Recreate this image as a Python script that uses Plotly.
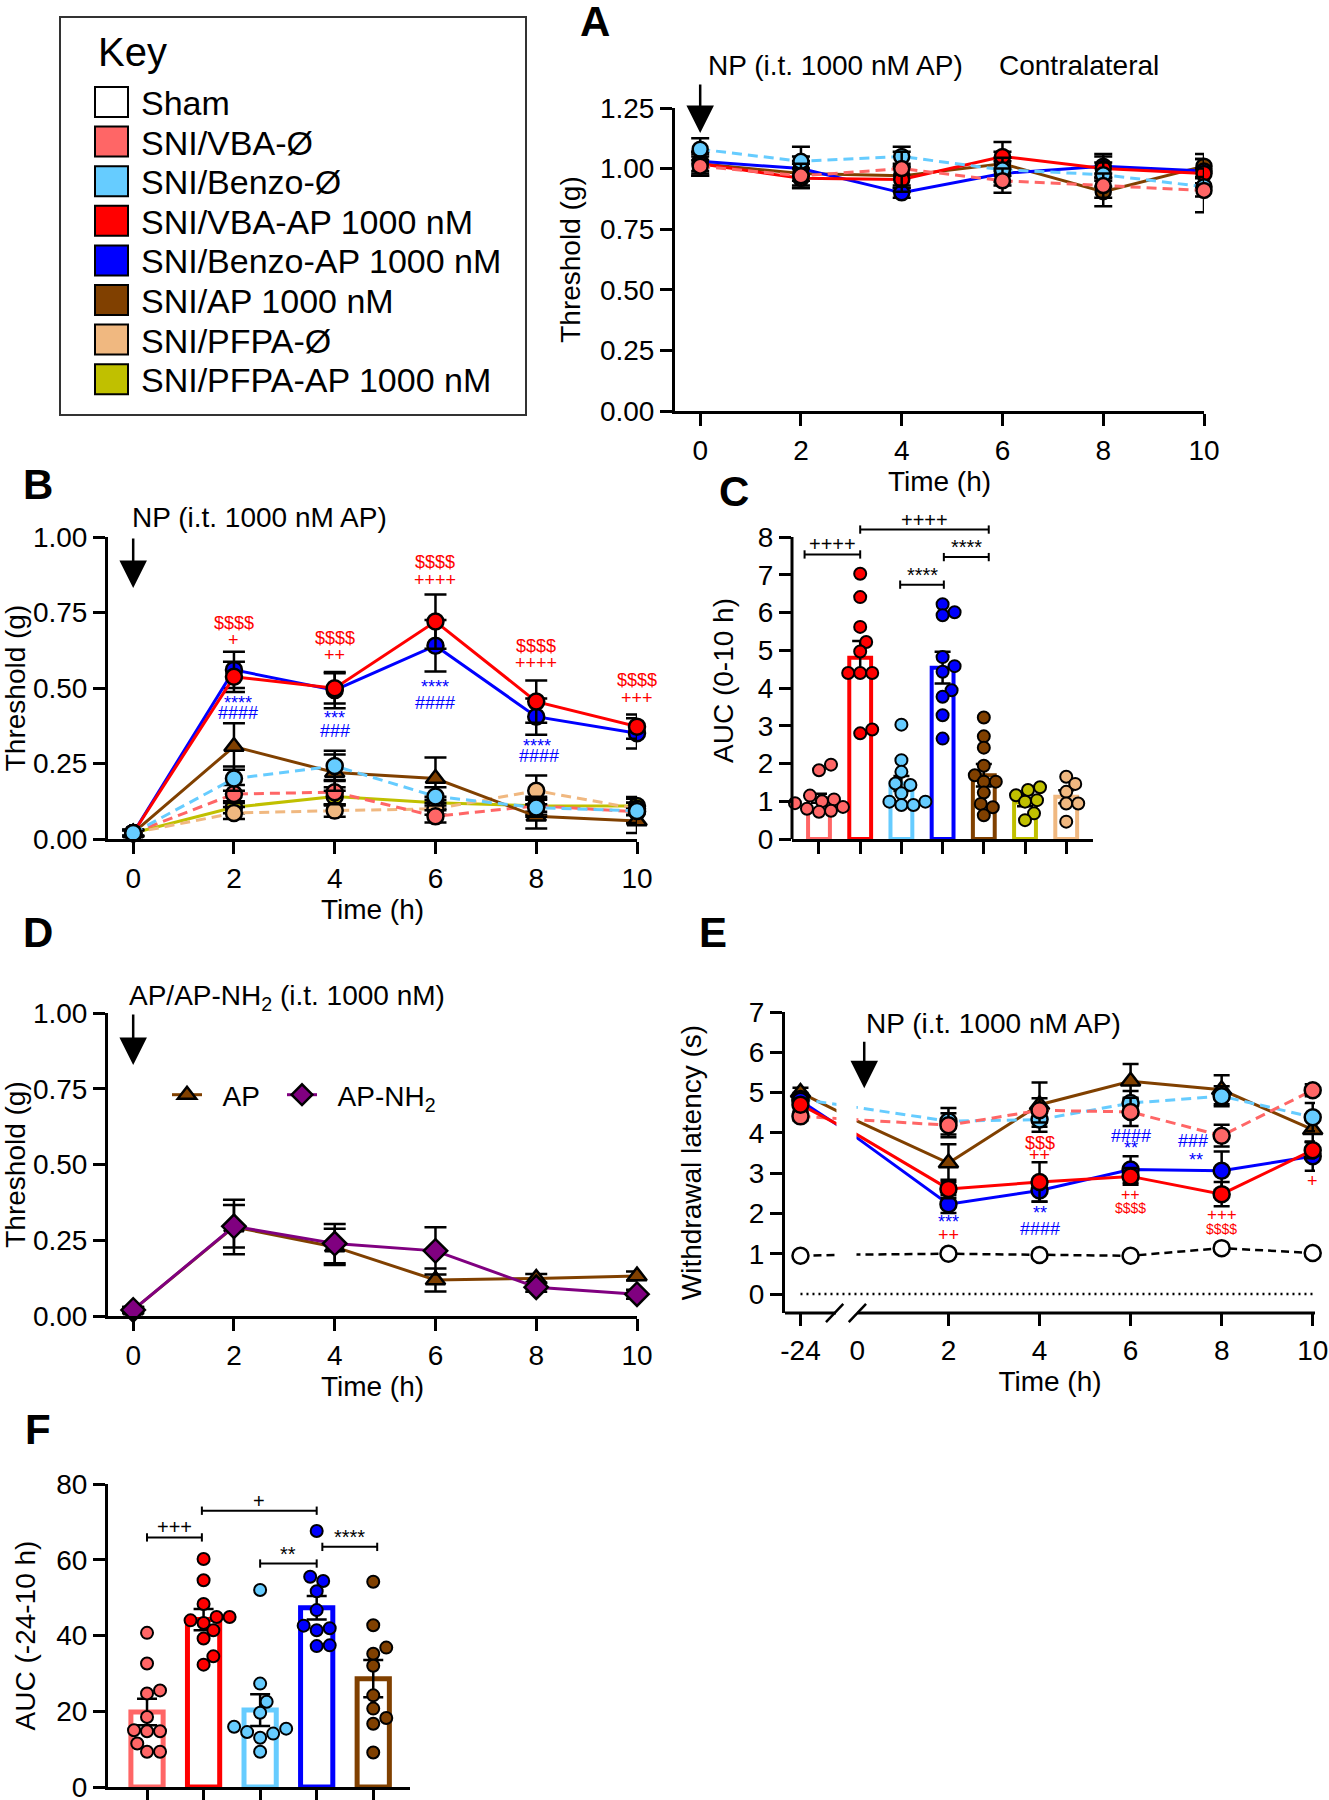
import plotly.graph_objects as go

W, H = 1329, 1800
FONT = 'Liberation Sans, Arial, Helvetica, sans-serif'

PINK, LBLUE, RED, BLUE = '#FF6666', '#66CCFF', '#FF0000', '#0000FF'
BROWN, PEACH, OLIVE, PURPLE = '#804000', '#F0B880', '#C0C000', '#800080'
DASH = '10px,6px'

# key
key_labels = ['Sham', 'SNI/VBA-Ø', 'SNI/Benzo-Ø', 'SNI/VBA-AP 1000 nM', 'SNI/Benzo-AP 1000 nM',
              'SNI/AP 1000 nM', 'SNI/PFPA-Ø', 'SNI/PFPA-AP 1000 nM']
key_colors = ['white', PINK, LBLUE, RED, BLUE, BROWN, PEACH, OLIVE]

# panel A - contralateral threshold (g)
a_time = [0, 2, 4, 6, 8, 10]
a_ap = [1.02, 0.98, 0.97, 1.02, 0.905, 1.01]
a_ap_err = [0.05, 0.05, 0.05, 0.05, 0.06, 0.05]
a_benzo_ap = [1.03, 1.00, 0.90, 0.98, 1.01, 0.99]
a_benzo_ap_err = [0.04, 0.05, 0.02, 0.05, 0.05, 0.05]
a_vba_ap = [1.02, 0.96, 0.955, 1.05, 1.00, 0.98]
a_vba_ap_err = [0.04, 0.04, 0.05, 0.06, 0.05, 0.06]
a_benzo0 = [1.08, 1.03, 1.05, 0.995, 0.975, 0.925]
a_benzo0_err = [0.045, 0.06, 0.04, 0.05, 0.05, 0.04]
a_vba0 = [1.01, 0.97, 1.00, 0.95, 0.93, 0.91]
a_vba0_err = [0.04, 0.05, 0.07, 0.05, 0.05, 0.09]

# panel B - ipsilateral threshold (g)
b_time = [0, 2, 4, 6, 8, 10]
b_pfpa_ap = [0.02, 0.105, 0.141, 0.12, 0.11, 0.109]
b_pfpa_ap_err = [0.01, 0.02, 0.03, 0.02, 0.02, 0.03]
b_pfpa0 = [0.02, 0.086, 0.094, 0.10, 0.16, 0.10]
b_pfpa0_err = [0.01, 0.02, 0.02, 0.02, 0.05, 0.02]
b_vba0 = [0.02, 0.149, 0.155, 0.075, 0.11, 0.09]
b_vba0_err = [0.01, 0.03, 0.04, 0.02, 0.03, 0.03]
b_ap = [0.02, 0.306, 0.22, 0.20, 0.075, 0.06]
b_ap_err = [0.01, 0.077, 0.06, 0.07, 0.04, 0.04]
b_benzo_ap = [0.02, 0.56, 0.493, 0.64, 0.405, 0.35]
b_benzo_ap_err = [0.01, 0.06, 0.06, 0.085, 0.06, 0.05]
b_vba_ap = [0.02, 0.537, 0.499, 0.72, 0.455, 0.372]
b_vba_ap_err = [0.01, 0.05, 0.05, 0.09, 0.07, 0.04]
b_benzo0 = [0.02, 0.20, 0.242, 0.141, 0.104, 0.093]
b_benzo0_err = [0.01, 0.04, 0.05, 0.03, 0.03, 0.04]
b_sig = [(2, 0.714, '$$$$', RED), (2, 0.659, '+', RED), (2.08, 0.449, '****', BLUE), (2.08, 0.416, '####', BLUE),
         (4, 0.664, '$$$$', RED), (4, 0.609, '++', RED), (4, 0.40, '***', BLUE), (4, 0.356, '###', BLUE),
         (6, 0.917, '$$$$', RED), (6, 0.859, '++++', RED), (6, 0.504, '****', BLUE), (6, 0.452, '####', BLUE),
         (8, 0.64, '$$$$', RED), (8, 0.584, '++++', RED), (8.02, 0.309, '****', BLUE), (8.05, 0.275, '####', BLUE),
         (10, 0.526, '$$$$', RED), (10, 0.466, '+++', RED), (10.05, 0.27, '***', BLUE), (10.05, 0.237, '###', BLUE)]

# panel C - AUC (0-10 h)
c_colors = [PINK, RED, LBLUE, BLUE, BROWN, OLIVE, PEACH]
c_mean = [1.08, 4.80, 1.47, 4.54, 1.69, 0.97, 1.12]
c_sem = [0.12, 0.45, 0.20, 0.42, 0.30, 0.10, 0.17]
c_dots = [
    [1.97, 1.82, 1.15, 1.05, 1.00, 0.95, 0.85, 0.80, 0.75, 0.72],
    [7.03, 6.41, 5.62, 5.22, 4.97, 4.40, 4.40, 4.40, 2.90, 2.80],
    [3.03, 2.09, 1.78, 1.47, 1.43, 1.21, 0.99, 0.99, 0.90, 0.90],
    [6.22, 6.01, 5.93, 4.82, 4.58, 4.43, 3.94, 3.77, 3.28, 2.66],
    [3.22, 2.72, 2.42, 1.94, 1.69, 1.52, 1.52, 1.23, 0.93, 0.84, 0.63],
    [1.37, 1.30, 1.16, 1.03, 0.99, 0.68, 0.50],
    [1.65, 1.46, 1.25, 0.94, 0.94, 0.46],
]
c_brackets = [(-0.35, 1.0, 7.54, '++++'), (1.0, 4.12, 8.2, '++++'),
              (1.97, 3.03, 6.74, '****'), (3.03, 4.12, 7.47, '****')]

# panel D - AP vs AP-NH2
d_time = [0, 2, 4, 6, 8, 10]
d_ap = [0.02, 0.294, 0.228, 0.119, 0.124, 0.132]
d_ap_err = [0.01, 0.09, 0.06, 0.038, 0.015, 0.015]
d_apnh2 = [0.02, 0.296, 0.239, 0.215, 0.095, 0.072]
d_apnh2_err = [0.01, 0.07, 0.065, 0.078, 0.015, 0.015]

# panel E - withdrawal latency (s)
e_time = [-24, 0, 2, 4, 6, 8, 10]
e_sham = [0.95, 0.98, 1.00, 0.97, 0.95, 1.14, 1.02]
e_sham_err = [0.05, 0, 0.05, 0.05, 0.05, 0.06, 0.05]
e_ap = [5.0, 4.29, 3.25, 4.70, 5.28, 5.07, 4.08]
e_ap_err = [0.12, 0, 0.47, 0.55, 0.43, 0.36, 0.30]
e_benzo0 = [4.84, 4.63, 4.29, 4.33, 4.74, 4.91, 4.39]
e_benzo0_err = [0.15, 0, 0.33, 0.30, 0.30, 0.25, 0.35]
e_vba0 = [4.41, 4.33, 4.19, 4.56, 4.52, 3.93, 5.06]
e_vba0_err = [0.10, 0, 0.30, 0.30, 0.35, 0.27, 0.15]
e_benzo_ap = [4.80, 3.87, 2.23, 2.57, 3.09, 3.06, 3.42]
e_benzo_ap_err = [0.15, 0, 0.22, 0.27, 0.33, 0.48, 0.36]
e_vba_ap = [4.70, 3.95, 2.61, 2.78, 2.92, 2.48, 3.57]
e_vba_ap_err = [0.15, 0, 0.23, 0.49, 0.21, 0.30, 0.20]
e_sig = [(2, 1.80, '***', BLUE, 18), (2, 1.47, '++', RED, 18),
         (4, 3.75, '$$$', RED, 18), (4, 3.44, '++', RED, 18), (4, 2.01, '**', BLUE, 18), (4, 1.61, '####', BLUE, 18),
         (6, 3.93, '####', BLUE, 18), (6, 3.62, '**', BLUE, 18), (6, 2.47, '++', RED, 16), (6, 2.13, '$$$$', RED, 14),
         (7.38, 3.79, '###', BLUE, 18), (7.43, 3.32, '**', BLUE, 18),
         (8, 1.97, '+++', RED, 17), (8, 1.61, '$$$$', RED, 14), (10, 2.81, '+', RED, 18)]
E_PRE = -1.25  # where the -24 h baseline sits left of the axis break


def e_pos(t):
    return E_PRE if t < 0 else t


# panel F - AUC (-24-10 h)
f_colors = [PINK, RED, LBLUE, BLUE, BROWN]
f_mean = [19.8, 44.2, 20.3, 47.3, 28.6]
f_sem = [3.5, 2.8, 4.2, 3.1, 4.9]
f_dots = [
    [40.7, 32.6, 25.5, 24.7, 18.5, 15.0, 14.7, 14.7, 11.5, 9.3, 9.3],
    [60.2, 54.6, 48.3, 44.9, 44.9, 44.0, 43.3, 41.4, 39.2, 34.5, 32.3],
    [52.0, 27.3, 22.5, 19.6, 15.9, 15.4, 14.5, 14.1, 13.0, 9.3],
    [67.6, 55.5, 54.4, 51.7, 46.7, 42.6, 41.9, 41.4, 37.4, 37.2],
    [54.2, 42.7, 36.8, 35.2, 32.0, 24.2, 20.7, 18.2, 16.7, 9.1],
]
f_brackets = [(0, 0.97, 65.9, '+++'), (0.97, 3.0, 72.95, '+'),
              (2.0, 3.0, 59.0, '**'), (3.1, 4.07, 63.4, '****')]


def px(x):
    return x / W


def py(y):
    return 1 - y / H


def swarm(vals, ppu, ppc, d):
    # simple beeswarm: push dots sideways until they stop overlapping
    order = sorted(range(len(vals)), key=lambda i: vals[i])
    placed, offs = [], [0.0] * len(vals)
    for i in order:
        y = vals[i] * ppu
        x = 0.0
        for k in range(0, 60):
            cands = [0] if k == 0 else [k, -k]
            ok = None
            for s in cands:
                cx = s * d * 0.25
                if all((cx - a) ** 2 + (y - b) ** 2 >= (0.9 * d) ** 2 for a, b in placed):
                    ok = cx
                    break
            if ok is not None:
                x = ok
                break
        placed.append((x, y))
        offs[i] = x / ppc
    return offs


def curve(x, y, err, color, xa, ya, dash='solid', symbol='circle', size=16, cap=11,
          fill=None, mode='lines+markers', name=None, legend=None, lw=3):
    return go.Scatter(
        x=x, y=y, mode=mode, xaxis=xa, yaxis=ya, name=name, showlegend=legend is not None,
        legend=legend or 'legend', cliponaxis=False,
        line=dict(color=color, width=lw, dash=dash),
        marker=dict(symbol=symbol, size=size, color=fill or color, line=dict(color='black', width=2.5)),
        error_y=dict(type='data', array=err, color='black', thickness=2.5, width=cap) if err is not None else None,
        hoverinfo='x+y')


fig = go.Figure()

# A
for y, e, c, dsh in [(a_ap, a_ap_err, BROWN, 'solid'), (a_benzo_ap, a_benzo_ap_err, BLUE, 'solid'),
                     (a_vba_ap, a_vba_ap_err, RED, 'solid'), (a_benzo0, a_benzo0_err, LBLUE, DASH),
                     (a_vba0, a_vba0_err, PINK, DASH)]:
    fig.add_trace(curve(a_time, y, e, c, 'x', 'y', dash=dsh, size=15, cap=9))

# B
for y, e, c, dsh, sym in [(b_pfpa_ap, b_pfpa_ap_err, OLIVE, 'solid', 'circle'),
                          (b_pfpa0, b_pfpa0_err, PEACH, DASH, 'circle'),
                          (b_vba0, b_vba0_err, PINK, DASH, 'circle'),
                          (b_ap, b_ap_err, BROWN, 'solid', 'triangle-up'),
                          (b_benzo_ap, b_benzo_ap_err, BLUE, 'solid', 'circle'),
                          (b_vba_ap, b_vba_ap_err, RED, 'solid', 'circle'),
                          (b_benzo0, b_benzo0_err, LBLUE, DASH, 'circle')]:
    fig.add_trace(curve(b_time, y, e, c, 'x2', 'y2', dash=dsh, symbol=sym, size=17 if sym != 'circle' else 16))

# C
fig.add_trace(go.Bar(x=list(range(len(c_mean))), y=c_mean, width=0.53, xaxis='x3', yaxis='y3', showlegend=False,
                     marker=dict(color='white', line=dict(color=c_colors, width=4)),
                     error_y=dict(type='data', array=c_sem, color='black', thickness=2.5, width=8)))
for i, vals in enumerate(c_dots):
    offs = swarm(vals, 37.75, 41.2, 12)
    fig.add_trace(go.Scatter(x=[i + o for o in offs], y=vals, mode='markers', xaxis='x3', yaxis='y3',
                             showlegend=False, cliponaxis=False,
                             marker=dict(size=12, color=c_colors[i], line=dict(color='black', width=2))))

# D (two little legends carry the labels)
fig.add_trace(curve(d_time, d_ap, d_ap_err, BROWN, 'x4', 'y4', symbol='triangle-up', size=17,
                    name='&nbsp;&nbsp;AP', legend='legend'))
fig.add_trace(curve(d_time, d_apnh2, d_apnh2_err, PURPLE, 'x4', 'y4', symbol='diamond', size=18,
                    name='&nbsp;&nbsp;AP-NH<sub>2</sub>', legend='legend2'))

# E
e_x = [e_pos(t) for t in e_time]
e_keep = [i for i, t in enumerate(e_time) if t != 0]
for y, e, c, dsh, sym, fill in [(e_sham, e_sham_err, 'black', '8px,5px', 'circle', 'white'),
                                (e_ap, e_ap_err, BROWN, 'solid', 'triangle-up', None),
                                (e_benzo0, e_benzo0_err, LBLUE, DASH, 'circle', None),
                                (e_vba0, e_vba0_err, PINK, DASH, 'circle', None),
                                (e_benzo_ap, e_benzo_ap_err, BLUE, 'solid', 'circle', None),
                                (e_vba_ap, e_vba_ap_err, RED, 'solid', 'circle', None)]:
    fig.add_trace(curve(e_x, y, None, c, 'x5', 'y5', dash=dsh, mode='lines',
                        lw=2.5 if c == 'black' else 3))
    fig.add_trace(curve([e_x[i] for i in e_keep], [y[i] for i in e_keep], [e[i] for i in e_keep],
                        c, 'x5', 'y5', symbol=sym, size=17 if sym != 'circle' else 16, cap=8,
                        fill=fill, mode='markers'))
# anchor for the overlay axis that carries the "0" label
fig.add_trace(go.Scatter(x=[0], y=[0], xaxis='x6', yaxis='y5', mode='markers', showlegend=False,
                         marker=dict(opacity=0), hoverinfo='skip'))

# F
fig.add_trace(go.Bar(x=list(range(len(f_mean))), y=f_mean, width=0.57, xaxis='x7', yaxis='y7', showlegend=False,
                     marker=dict(color='white', line=dict(color=f_colors, width=5)),
                     error_y=dict(type='data', array=f_sem, color='black', thickness=2.5, width=10)))
for i, vals in enumerate(f_dots):
    offs = swarm(vals, 303 / 80, 56.5, 13)
    fig.add_trace(go.Scatter(x=[i + o for o in offs], y=vals, mode='markers', xaxis='x7', yaxis='y7',
                             showlegend=False, cliponaxis=False,
                             marker=dict(size=12, color=f_colors[i], line=dict(color='black', width=2))))


def axis(a, b, rng, letter, **kw):
    dom = [a / W, b / W] if letter == 'x' else [1 - a / H, 1 - b / H]
    d = dict(domain=dom, range=rng, showline=True, linecolor='black', linewidth=3, ticks='outside',
             ticklen=12, tickwidth=3, tickcolor='black', showgrid=False, zeroline=False, automargin=False,
             ticklabeloverflow='allow', tickfont=dict(family=FONT, size=28, color='black'))
    d.update(kw)
    return d


def ttl(text, standoff):
    return dict(text=text, font=dict(family=FONT, size=28, color='black'), standoff=standoff)


def small_legend(x):
    return dict(orientation='h', x=px(x), y=py(1095), xanchor='left', yanchor='middle',
                font=dict(family=FONT, size=28, color='black'), bgcolor='rgba(0,0,0,0)',
                itemwidth=30, itemclick=False, itemdoubleclick=False)


t6 = [0, 2, 4, 6, 8, 10]
fig.update_layout(
    template='none',
    xaxis=axis(675, 1204, [-0.5, 10], 'x', anchor='y', tickvals=t6, title=ttl('Time (h)', 6)),
    yaxis=axis(411, 108, [0, 1.25], 'y', anchor='x', tickvals=[0, 0.25, 0.5, 0.75, 1.0, 1.25],
               tickformat='.2f', title=ttl('Threshold (g)', 12)),
    xaxis2=axis(108, 637, [-0.5, 10], 'x', anchor='y2', tickvals=t6, title=ttl('Time (h)', 6)),
    yaxis2=axis(839, 537, [0, 1], 'y', anchor='x2', tickvals=[0, 0.25, 0.5, 0.75, 1.0],
                tickformat='.2f', title=ttl('Threshold (g)', 12)),
    xaxis3=axis(792, 1093, [-0.655, 6.65], 'x', anchor='y3', tickvals=list(range(7)), showticklabels=False),
    yaxis3=axis(839, 522, [0, 8.4], 'y', anchor='x3', tickvals=list(range(9)), showline=False,
                title=ttl('AUC (0-10 h)', 16)),
    xaxis4=axis(108, 637, [-0.5, 10], 'x', anchor='y4', tickvals=t6, title=ttl('Time (h)', 6)),
    yaxis4=axis(1316, 1013, [0, 1], 'y', anchor='x4', tickvals=[0, 0.25, 0.5, 0.75, 1.0],
                tickformat='.2f', title=ttl('Threshold (g)', 12)),
    xaxis5=axis(785, 1315, [-1.59, 10.05], 'x', anchor='y5', showline=False,
                tickvals=[e_pos(t) for t in e_time if t != 0], ticktext=[str(t) for t in e_time if t != 0],
                title=ttl('Time (h)', 6)),
    xaxis6=axis(785, 1315, [-1.59, 10.05], 'x', anchor='y5', overlaying='x5', showline=False,
                tickvals=[0], ticktext=['0'], tickcolor='rgba(0,0,0,0)'),
    yaxis5=axis(1313, 1012, [-0.47, 7], 'y', anchor='x5', tickvals=list(range(8)),
                title=ttl('Withdrawal latency (s)', 40)),
    xaxis7=axis(108, 410, [-0.69, 4.65], 'x', anchor='y7', tickvals=list(range(5)), showticklabels=False),
    yaxis7=axis(1787, 1484, [0, 80], 'y', anchor='x7', tickvals=[0, 20, 40, 60, 80],
                title=ttl('AUC (-24-10 h)', 13)),
    width=W, height=H, margin=dict(l=0, r=0, t=0, b=0, pad=0),
    paper_bgcolor='white', plot_bgcolor='rgba(0,0,0,0)',
    font=dict(family=FONT, color='black'),
    legend=small_legend(167),
    legend2=small_legend(282),
    hovermode='closest',
)

shapes = []
ann = []

# key box
shapes.append(dict(type='rect', xref='paper', yref='paper', x0=px(60), x1=px(526), y0=py(17), y1=py(415),
                   line=dict(color='#333333', width=2), fillcolor='rgba(0,0,0,0)'))
ann.append(dict(xref='paper', yref='paper', x=px(96), y=py(52), text='Key', showarrow=False,
                xanchor='left', yanchor='middle', font=dict(family=FONT, size=40, color='black')))
for i, (lab, col) in enumerate(zip(key_labels, key_colors)):
    cy = 102 + 39.6 * i
    shapes.append(dict(type='rect', xref='paper', yref='paper', x0=px(95), x1=px(128),
                       y0=py(cy + 15), y1=py(cy - 15), fillcolor=col, line=dict(color='black', width=2)))
    ann.append(dict(xref='paper', yref='paper', x=px(139), y=py(cy + 1), text=lab, showarrow=False,
                    xanchor='left', yanchor='middle', font=dict(family=FONT, size=34, color='black')))

# panel letters
for t, x, y in [('A', 595, 21), ('B', 38, 484), ('C', 734, 491), ('D', 38, 932), ('E', 713, 932), ('F', 38, 1429)]:
    ann.append(dict(xref='paper', yref='paper', x=px(x), y=py(y), text='<b>%s</b>' % t, showarrow=False,
                    xanchor='center', yanchor='middle', font=dict(family=FONT, size=42, color='black')))

# treatment labels + arrows
for t, x, y in [('NP (i.t. 1000 nM AP)', 706, 66), ('Contralateral', 997, 66), ('NP (i.t. 1000 nM AP)', 130, 517),
                ('AP/AP-NH<sub>2</sub> (i.t. 1000 nM)', 127, 998), ('NP (i.t. 1000 nM AP)', 864, 1023)]:
    ann.append(dict(xref='paper', yref='paper', x=px(x), y=py(y), text=t, showarrow=False,
                    xanchor='left', yanchor='middle', font=dict(family=FONT, size=28, color='black')))
for xa, ya, x, tip, tail in [('x', 'y', 0, 1.147, 1.353), ('x2', 'y2', 0, 0.831, 1.0),
                             ('x4', 'y4', 0, 0.828, 1.0), ('x5', 'y5', 0.15, 5.11, 6.30)]:
    ann.append(dict(xref=xa, yref=ya, x=x, y=tip, axref=xa, ayref=ya, ax=x, ay=tail, text='',
                    showarrow=True, arrowhead=2, arrowsize=2.2, arrowwidth=2.5, arrowcolor='black'))

# significance marks
for x, y, t, c in b_sig:
    ann.append(dict(xref='x2', yref='y2', x=x, y=y, text=t, showarrow=False, xanchor='center',
                    yanchor='middle', font=dict(family=FONT, size=18, color=c)))
for x, y, t, c, s in e_sig:
    ann.append(dict(xref='x5', yref='y5', x=x, y=y, text=t, showarrow=False, xanchor='center',
                    yanchor='middle', font=dict(family=FONT, size=s, color=c)))

# comparison brackets
for xa, ya, brs, tick in [('x3', 'y3', c_brackets, 0.11), ('x7', 'y7', f_brackets, 1.1)]:
    for x0, x1, y, t in brs:
        shapes.append(dict(type='line', xref=xa, yref=ya, x0=x0, x1=x1, y0=y, y1=y,
                           line=dict(color='black', width=2)))
        for xe in (x0, x1):
            shapes.append(dict(type='line', xref=xa, yref=ya, x0=xe, x1=xe, y0=y - tick, y1=y + tick,
                               line=dict(color='black', width=2)))
        ann.append(dict(xref=xa, yref=ya, x=(x0 + x1) / 2, y=y, text=t, showarrow=False, xanchor='center',
                        yanchor='bottom', yshift=-3, font=dict(family=FONT, size=20, color='black')))

# C y axis line stops at 8
shapes.append(dict(type='line', xref='x3 domain', yref='y3', x0=0, x1=0, y0=0, y1=8,
                   line=dict(color='black', width=3)))

# E axis break
shapes.append(dict(type='rect', xref='x5', yref='y5', x0=-0.46, x1=-0.02, y0=0.4, y1=5.8,
                   fillcolor='white', line=dict(width=0), layer='above'))
shapes.append(dict(type='line', xref='x5', yref='y5', x0=E_PRE, x1=10, y0=0, y1=0,
                   line=dict(color='black', width=2.5, dash='2px,4px')))
for x0, x1 in [(-1.59, -0.47), (0.0, 10.05)]:
    shapes.append(dict(type='line', xref='x5', yref='y5 domain', x0=x0, x1=x1, y0=0, y1=0,
                       line=dict(color='black', width=3)))
for c in (-0.5, 0.0):
    shapes.append(dict(type='line', xref='x5', yref='y5 domain', x0=c - 0.19, x1=c + 0.19, y0=-0.03, y1=0.03,
                       line=dict(color='black', width=2.5)))

fig.update_layout(shapes=shapes, annotations=ann)

fig.write_html("out.html", config={'displayModeBar': False},
               post_script="document.body.style.margin='0px';")
